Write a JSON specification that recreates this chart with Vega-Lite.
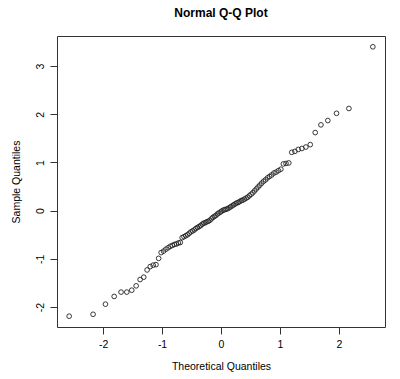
{
  "$schema": "https://vega.github.io/schema/vega-lite/v6.json",
  "width": 328,
  "height": 291,
  "autosize": {"type": "none"},
  "padding": {"left": 57, "top": 36, "right": 15, "bottom": 52},
  "background": "white",
  "title": {"text": "Normal Q-Q Plot", "fontSize": 12, "fontWeight": "bold", "font": "Liberation Sans", "color": "black", "anchor": "middle", "offset": 16},
  "data": {"values": [
    {"t": -2.5758, "s": -2.19}, {"t": -2.1701, "s": -2.15}, {"t": -1.9600, "s": -1.94}, {"t": -1.8119, "s": -1.78},
    {"t": -1.6954, "s": -1.69}, {"t": -1.5982, "s": -1.69}, {"t": -1.5141, "s": -1.65}, {"t": -1.4395, "s": -1.56},
    {"t": -1.3722, "s": -1.43}, {"t": -1.3106, "s": -1.38}, {"t": -1.2536, "s": -1.23}, {"t": -1.2004, "s": -1.16},
    {"t": -1.1503, "s": -1.13}, {"t": -1.1031, "s": -1.12}, {"t": -1.0581, "s": -0.99}, {"t": -1.0152, "s": -0.87},
    {"t": -0.9741, "s": -0.84}, {"t": -0.9346, "s": -0.80}, {"t": -0.8965, "s": -0.77}, {"t": -0.8596, "s": -0.74},
    {"t": -0.8239, "s": -0.72}, {"t": -0.7892, "s": -0.70}, {"t": -0.7554, "s": -0.69}, {"t": -0.7225, "s": -0.67},
    {"t": -0.6903, "s": -0.66}, {"t": -0.6588, "s": -0.56}, {"t": -0.6280, "s": -0.54}, {"t": -0.5978, "s": -0.52},
    {"t": -0.5681, "s": -0.50}, {"t": -0.5388, "s": -0.47}, {"t": -0.5101, "s": -0.44}, {"t": -0.4817, "s": -0.42},
    {"t": -0.4538, "s": -0.40}, {"t": -0.4261, "s": -0.37}, {"t": -0.3989, "s": -0.35}, {"t": -0.3719, "s": -0.33},
    {"t": -0.3451, "s": -0.31}, {"t": -0.3186, "s": -0.28}, {"t": -0.2924, "s": -0.26}, {"t": -0.2663, "s": -0.25},
    {"t": -0.2404, "s": -0.23}, {"t": -0.2147, "s": -0.22}, {"t": -0.1891, "s": -0.20}, {"t": -0.1637, "s": -0.17},
    {"t": -0.1383, "s": -0.14}, {"t": -0.1130, "s": -0.12}, {"t": -0.0878, "s": -0.10}, {"t": -0.0627, "s": -0.07},
    {"t": -0.0376, "s": -0.05}, {"t": -0.0125, "s": -0.03}, {"t": 0.0125, "s": -0.01}, {"t": 0.0376, "s": 0.01},
    {"t": 0.0627, "s": 0.02}, {"t": 0.0878, "s": 0.03}, {"t": 0.1130, "s": 0.04}, {"t": 0.1383, "s": 0.06},
    {"t": 0.1637, "s": 0.08}, {"t": 0.1891, "s": 0.10}, {"t": 0.2147, "s": 0.12}, {"t": 0.2404, "s": 0.14},
    {"t": 0.2663, "s": 0.16}, {"t": 0.2924, "s": 0.17}, {"t": 0.3186, "s": 0.19}, {"t": 0.3451, "s": 0.21},
    {"t": 0.3719, "s": 0.22}, {"t": 0.3989, "s": 0.24}, {"t": 0.4261, "s": 0.26}, {"t": 0.4538, "s": 0.28},
    {"t": 0.4817, "s": 0.31}, {"t": 0.5101, "s": 0.34}, {"t": 0.5388, "s": 0.37}, {"t": 0.5681, "s": 0.41},
    {"t": 0.5978, "s": 0.45}, {"t": 0.6280, "s": 0.49}, {"t": 0.6588, "s": 0.53}, {"t": 0.6903, "s": 0.57},
    {"t": 0.7225, "s": 0.61}, {"t": 0.7554, "s": 0.64}, {"t": 0.7892, "s": 0.68}, {"t": 0.8239, "s": 0.71},
    {"t": 0.8596, "s": 0.74}, {"t": 0.8965, "s": 0.78}, {"t": 0.9346, "s": 0.80}, {"t": 0.9741, "s": 0.83},
    {"t": 1.0152, "s": 0.86}, {"t": 1.0581, "s": 0.97}, {"t": 1.1031, "s": 0.98}, {"t": 1.1503, "s": 0.99},
    {"t": 1.2004, "s": 1.21}, {"t": 1.2536, "s": 1.23}, {"t": 1.3106, "s": 1.27}, {"t": 1.3722, "s": 1.29},
    {"t": 1.4395, "s": 1.32}, {"t": 1.5141, "s": 1.37}, {"t": 1.5982, "s": 1.62}, {"t": 1.6954, "s": 1.78},
    {"t": 1.8119, "s": 1.87}, {"t": 1.9600, "s": 2.02}, {"t": 2.1701, "s": 2.12}, {"t": 2.5758, "s": 3.40}
  ]},
  "mark": {"type": "point", "shape": "circle", "filled": false, "stroke": "#222", "strokeWidth": 0.9, "size": 22, "opacity": 1},
  "encoding": {
    "x": {"field": "t", "type": "quantitative", "scale": {"domain": [-2.782, 2.782], "nice": false, "zero": false},
      "axis": {"title": "Theoretical Quantiles", "values": [-2, -1, 0, 1, 2], "grid": false, "domain": false,
        "labelExpr": "'' + datum.value",
        "tickSize": 7, "tickColor": "#333", "labelPadding": 5, "labelFontSize": 10.5, "labelColor": "black", "labelFont": "Liberation Sans",
        "titleFont": "Liberation Sans", "titleFontSize": 10.5, "titleFontWeight": "normal", "titleColor": "black", "titlePadding": 12, "labelFlush": false}},
    "y": {"field": "s", "type": "quantitative", "scale": {"domain": [-2.414, 3.624], "nice": false, "zero": false},
      "axis": {"title": "Sample Quantiles", "values": [-2, -1, 0, 1, 2, 3], "grid": false, "domain": false,
        "labelExpr": "'' + datum.value",
        "tickSize": 7, "tickColor": "#333", "labelPadding": 5, "labelFontSize": 10.5, "labelColor": "black", "labelFont": "Liberation Sans",
        "labelAngle": -90, "labelAlign": "center", "labelBaseline": "bottom",
        "titleFont": "Liberation Sans", "titleFontSize": 10.5, "titleFontWeight": "normal", "titleColor": "black", "titlePadding": 14, "labelFlush": false}}
  },
  "config": {"view": {"stroke": "#333", "strokeWidth": 1}}
}
